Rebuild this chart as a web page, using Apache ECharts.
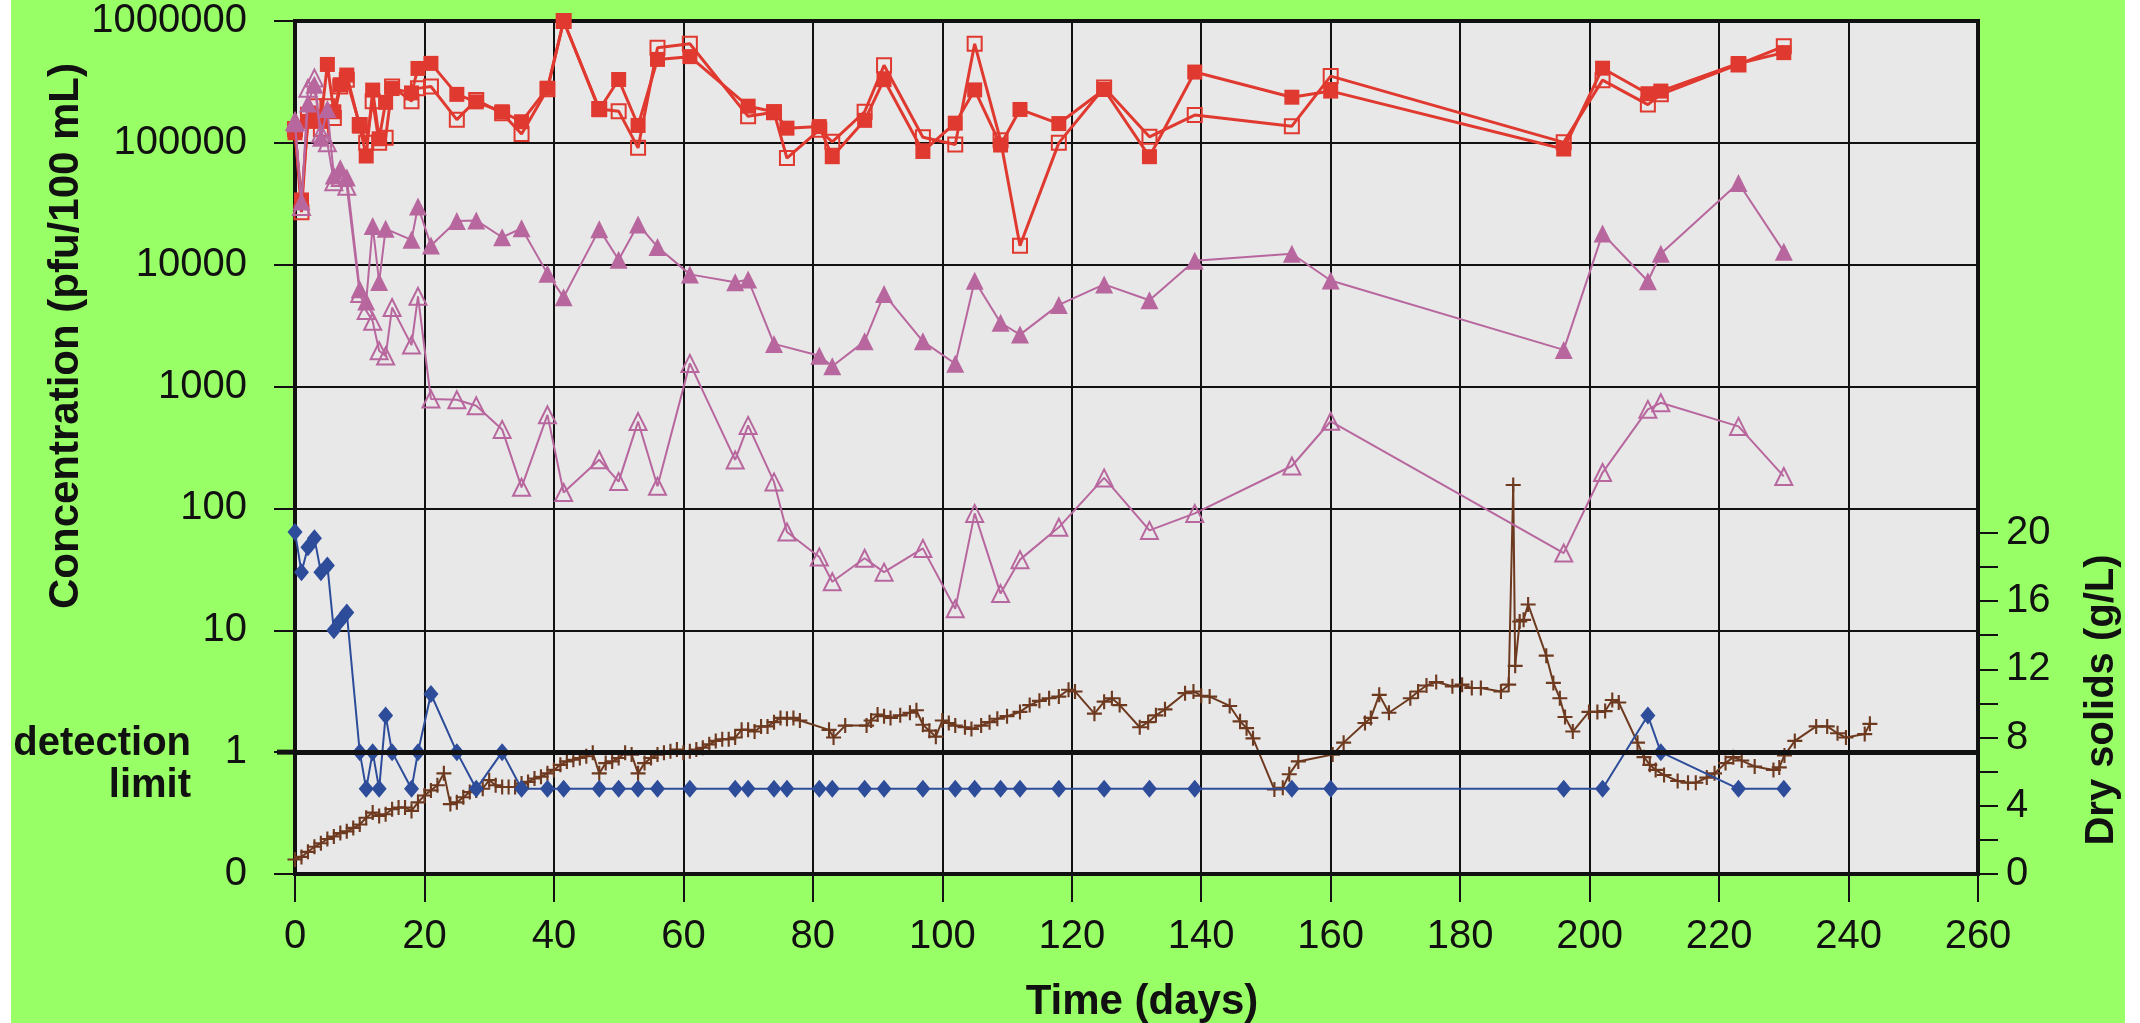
<!DOCTYPE html>
<html><head><meta charset="utf-8">
<script src="https://cdn.jsdelivr.net/npm/echarts@6/dist/echarts.min.js"></script>
<style>
html,body{margin:0;padding:0;background:#ffffff;width:2140px;height:1023px;overflow:hidden}
#c{position:absolute;left:11px;top:0;width:2114px;height:1023px}
</style></head>
<body><div id="c"></div>
<script>
// sampling days for the concentration series
const days = [0,1,2,3,4,5,6,7,8,10,11,12,13,14,15,18,19,21,25,28,32,35,39,41.5,47,50,53,56,61,68,70,74,76,81,83,88,91,97,102,105,109,112,118,125,132,139,154,160,196,202,209,211,223,230];
// red filled squares (pfu/100 mL)
const redFilled = [121000,34000,150000,165000,150000,440000,180000,300000,360000,137000,78000,271000,108000,215000,279000,257000,408000,449000,250000,217000,180000,149000,281000,1000000,187000,331000,139000,484000,510000,null,200000,180000,132000,136000,77000,153000,330000,85000,145000,272000,96000,188000,144000,274000,77000,381000,237000,266000,89000,410000,253000,266000,448000,550000];
// red open squares
const redOpen = [130000,27000,170000,200000,130000,200000,160000,290000,330000,140000,100000,220000,100000,110000,290000,220000,280000,290000,155000,225000,175000,118000,275000,1000000,190000,182000,91000,602000,650000,null,165000,178000,75000,128000,102000,180000,433000,111000,97000,650000,105000,14300,100000,285000,112000,169000,137000,353000,101000,327000,206000,250000,440000,620000];
// purple filled triangles
const purpleFilled = [145000,33000,210000,300000,110000,190000,54000,62000,52000,6300,5000,20800,7200,19700,null,16000,30100,14400,22800,23100,16800,19900,8450,5400,19500,11000,21400,14000,8330,7180,7560,2240,null,1790,1470,2350,5740,2350,1540,7400,3340,2670,4680,6890,5110,10800,12300,7420,2000,18000,7310,12300,46800,12800];
// purple open triangles
const purpleOpen = [150000,30000,280000,340000,120000,100000,48000,52000,44000,5800,4200,3430,1970,1780,4450,2190,5500,790,780,695,445,149,586,135,251,166,516,152,1550,250,480,165,64,40,25,39,30,47,15,91,20,38,70,178,66,91,223,519,43,197,650,736,471,183];
// blue diamonds
const blueDiamond = [64,30,48,57,30,34,10,12,14,1,0.5,1,0.5,2,1,0.5,1,3,1,0.5,1,0.5,0.5,0.5,0.5,0.5,0.5,0.5,0.5,0.5,0.5,0.5,0.5,0.5,0.5,0.5,0.5,0.5,0.5,0.5,0.5,0.5,0.5,0.5,0.5,0.5,0.5,0.5,0.5,0.5,2,1,0.5,0.5];
// detection limit (pfu/100 mL)
const detectionLimit = 1;
// dry solids (g/L), right axis
const solidsDays = [0,1,2,3,4,5,6,7,8,9,10,11,12,13,14,15,16,17,18,19,20,21,22,23,24,25,26,27,28,29,30,31,32,33,34,35,36,37,38,39,40,41,42,43,44,45,46,47,48,49,50,51,52,53,54,55,56,57,58,59,60,61,62,63,64,65,66,67,68,69,70,71,72,73,74,75,76,77,78,82.5,83.2,85,88.3,89,90,91,92,93.5,95,96,97,98,99,100,101,102,103.5,104.5,106,107.3,108.5,110,112,113.5,115,116.5,118,119.5,120.5,123.5,125,126.2,127.4,130.5,131.8,133,134.4,137.5,138.8,140,141.3,144.4,146,147,148,151.3,152.6,153.6,155,160.3,162,165.3,166.2,167.5,169,172.3,173.5,174.8,176.3,178.8,180.3,181.8,183.2,186.3,187.5,188.2,188.5,189.2,189.8,190.5,193.3,194.4,195.4,196.2,197.4,199.9,201.2,202.4,203.5,204.5,207.4,208.4,209.3,210.2,211.5,213.6,215.2,216.4,218.1,219.3,221,222.2,223.5,225.5,228.4,229.3,230.1,231.7,235,236.7,238.3,239.6,242.5,243.3];
const solidsValues = [0.85,1.0,1.3,1.6,1.8,2.05,2.2,2.4,2.5,2.7,2.9,3.3,3.6,3.4,3.5,3.8,3.9,3.9,3.7,4.2,4.6,4.9,5.2,5.9,4.1,4.2,4.5,4.8,4.9,5.0,5.5,5.2,5.1,5.1,5.1,5.3,5.4,5.6,5.7,5.9,6.1,6.4,6.6,6.7,6.8,6.9,7.1,5.9,6.5,6.6,6.8,7.1,7.0,5.9,6.5,6.8,7.0,7.1,7.2,7.3,7.1,7.2,7.3,7.4,7.6,7.8,7.9,7.9,8.0,8.45,8.45,8.35,8.65,8.65,8.9,9.15,9.1,9.15,9.0,8.45,8.0,8.7,8.7,9.0,9.35,9.25,9.15,9.3,9.45,9.6,8.75,8.4,8.05,9.0,8.85,8.7,8.6,8.5,8.7,8.9,9.1,9.25,9.5,9.9,10.15,10.3,10.4,10.8,10.7,9.4,10.1,10.3,9.9,8.6,8.9,9.3,9.65,10.6,10.7,10.45,10.4,9.85,8.95,8.55,7.95,4.95,5.05,5.85,6.6,7.0,7.7,8.85,9.15,10.5,9.45,10.3,10.7,11.05,11.25,11.0,11.1,10.9,10.9,10.7,11.1,22.8,12.2,14.8,14.9,15.8,12.8,11.2,10.3,9.2,8.35,9.5,9.5,9.55,10.2,10.05,7.7,6.85,6.4,6.1,5.8,5.45,5.35,5.35,5.65,5.9,6.5,6.85,6.65,6.3,6.1,6.25,6.95,7.8,8.65,8.65,8.25,8.0,8.2,8.8];
// axis ticks
const xTicks = {min: 0, max: 260, step: 20};
const rightTickValues = [0,2,4,6,8,10,12,14,16,18,20];
const rightLabelValues = [0,4,8,12,16,20];

const RED = '#e0392f', PURPLE = '#b8679e', BLUE = '#2d4c9a', BROWN = '#6d3a20';
const FONT = '"Liberation Sans", Arial, Helvetica, sans-serif';
const pairs = arr => days.map((d, i) => [d, arr[i]]).filter(p => p[1] !== null);
const PLUS = 'path://M-1,-7L1,-7L1,-1L7,-1L7,1L1,1L1,7L-1,7L-1,1L-7,1L-7,-1L-1,-1Z';

const textGraphics = [
  {id: 'ytitle', type: 'text', x: 55, y: 336, rotation: Math.PI / 2,
    style: {text: 'Concentration (pfu/100 mL)', font: 'bold 42px ' + FONT, fill: '#111', textAlign: 'center', textVerticalAlign: 'middle'}},
  {id: 'y2title', type: 'text', x: 2091, y: 700, rotation: Math.PI / 2,
    style: {text: 'Dry solids (g/L)', font: 'bold 40px ' + FONT, fill: '#111', textAlign: 'center', textVerticalAlign: 'middle'}},
  {id: 'xtitle', type: 'text', x: 1131, y: 1002,
    style: {text: 'Time (days)', font: 'bold 42px ' + FONT, fill: '#111', textAlign: 'center', textVerticalAlign: 'middle'}},
  {id: 'det1', type: 'text', x: 180, y: 744,
    style: {text: 'detection', font: 'bold 40px ' + FONT, fill: '#111', textAlign: 'right', textVerticalAlign: 'middle'}},
  {id: 'det2', type: 'text', x: 180, y: 786,
    style: {text: 'limit', font: 'bold 40px ' + FONT, fill: '#111', textAlign: 'right', textVerticalAlign: 'middle'}}
];

const chart = echarts.init(document.getElementById('c'), null, {renderer: 'canvas'});
chart.setOption({
  animation: false,
  backgroundColor: '#99ff66',
  grid: {left: 284, right: 147, top: 21, bottom: 149, show: true, backgroundColor: '#e8e8e8', borderColor: '#111', borderWidth: 4},
  xAxis: {
    type: 'value', min: xTicks.min, max: xTicks.max, interval: xTicks.step,
    axisLine: {show: true, onZero: false, lineStyle: {color: '#111', width: 4}},
    axisTick: {show: true, inside: false, length: 28, lineStyle: {color: '#111', width: 2}},
    axisLabel: {color: '#111', fontFamily: FONT, fontSize: 40, margin: 43},
    splitLine: {show: true, lineStyle: {color: '#111', width: 2}}
  },
  yAxis: [{
    type: 'log', logBase: 10, min: 0.1, max: 1000000,
    axisLine: {show: true, lineStyle: {color: '#111', width: 4}},
    axisTick: {show: true, inside: false, length: 21, lineStyle: {color: '#111', width: 2}},
    axisLabel: {color: '#111', fontFamily: FONT, fontSize: 40, margin: 48, padding: [9, 0, 0, 0],
      formatter: v => v < 1 ? '0' : String(Math.round(v))},
    splitLine: {show: true, lineStyle: {color: '#111', width: 2}}
  }, {
    type: 'value', min: 0, max: 50, interval: 2, position: 'right',
    axisLine: {show: true, lineStyle: {color: '#111', width: 4}},
    axisTick: {show: true, inside: false, length: 20, lineStyle: {color: '#111', width: 2}, customValues: rightTickValues},
    axisLabel: {color: '#111', fontFamily: FONT, fontSize: 40, margin: 28, customValues: rightLabelValues},
    splitLine: {show: false}
  }],
  graphic: textGraphics,
  series: [
    {name: 'Dry solids', type: 'line', yAxisIndex: 1, data: solidsDays.map((d, i) => [d, solidsValues[i]]),
      symbol: PLUS, symbolSize: 15, itemStyle: {color: BROWN}, lineStyle: {color: BROWN, width: 2}, z: 3},
    {name: 'Blue', type: 'line', yAxisIndex: 0, data: pairs(blueDiamond),
      symbol: 'diamond', symbolSize: [15, 18], itemStyle: {color: BLUE}, lineStyle: {color: BLUE, width: 2}, z: 4,
      markLine: {silent: true, symbol: 'none', label: {show: false}, lineStyle: {color: '#111', width: 5, type: 'solid'}, data: [{yAxis: detectionLimit}]}},
    {name: 'Red open', type: 'line', yAxisIndex: 0, data: pairs(redOpen), connectNulls: true,
      symbol: 'rect', symbolSize: 14, itemStyle: {color: 'rgba(0,0,0,0)', borderColor: RED, borderWidth: 2}, lineStyle: {color: RED, width: 3}, z: 5},
    {name: 'Red filled', type: 'line', yAxisIndex: 0, data: pairs(redFilled), connectNulls: true,
      symbol: 'rect', symbolSize: 15, itemStyle: {color: RED}, lineStyle: {color: RED, width: 3}, z: 6},
    {name: 'Purple open', type: 'line', yAxisIndex: 0, data: pairs(purpleOpen),
      symbol: 'triangle', symbolSize: 17, itemStyle: {color: 'rgba(0,0,0,0)', borderColor: PURPLE, borderWidth: 2}, lineStyle: {color: PURPLE, width: 2}, z: 7},
    {name: 'Purple filled', type: 'line', yAxisIndex: 0, data: pairs(purpleFilled), connectNulls: true,
      symbol: 'triangle', symbolSize: 18, itemStyle: {color: PURPLE}, lineStyle: {color: PURPLE, width: 2}, z: 8}
  ]
});

// extend the detection-limit line a little past the left axis, like the original
const yDet = chart.convertToPixel({yAxisIndex: 0}, detectionLimit);
const xLeft = chart.convertToPixel({xAxisIndex: 0}, xTicks.min);
chart.setOption({graphic: textGraphics.concat([
  {id: 'detExt', type: 'line', z: 100, shape: {x1: xLeft - 18, y1: yDet, x2: xLeft + 2, y2: yDet}, style: {stroke: '#111', lineWidth: 5}}
])});
</script>
</body></html>
